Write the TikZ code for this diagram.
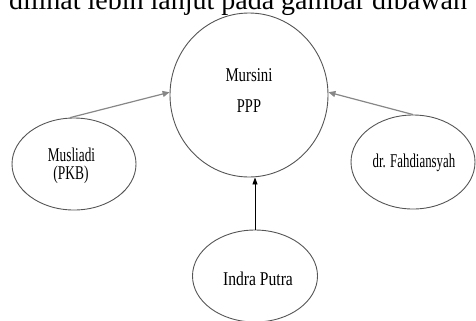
\documentclass[tikz,border=0pt]{standalone}
\usepackage{fontspec}
\setmainfont{Liberation Serif}
\usetikzlibrary{shapes.geometric,arrows.meta}
\definecolor{edgegrey}{RGB}{85,85,85}
\definecolor{arrgrey}{RGB}{135,135,135}
\tikzset{
  oval/.style={draw=edgegrey, line width=0.9bp, ellipse, inner sep=0pt},
  lbl/.style={anchor=base, inner sep=0pt, font=\fontsize{19.5bp}{22bp}\selectfont},
  garrow/.style={draw=arrgrey, line width=1.2bp, -{Triangle[length=7bp,width=6bp]}},
  barrow/.style={draw=black, line width=0.9bp, -{Triangle[length=7bp,width=5bp]}}
}
\begin{document}
\begin{tikzpicture}[x=1bp,y=-1bp]
\useasboundingbox (0,0) rectangle (476,320);
\clip (0,0) rectangle (476,320);
\node[anchor=base, inner sep=0pt, font=\fontsize{28bp}{30bp}\selectfont] (head) at (238,9.5) {dilihat lebih lanjut pada gambar dibawah};
\node[oval, minimum width=158bp, minimum height=164bp] (mursini) at (249,95) {};
\node[oval, minimum width=124bp, minimum height=92bp] (musl) at (74,164) {};
\node[oval, minimum width=124bp, minimum height=94bp] (fahd) at (413,162) {};
\node[oval, minimum width=125bp, minimum height=92bp] (indra) at (255,276) {};
\node[lbl] (t1) at (249,81.5) {\scalebox{0.76}[1]{Mursini}};
\node[lbl] (t2) at (249,112.5) {\scalebox{0.74}[1]{PPP}};
\node[lbl] (t3) at (71.5,161) {\scalebox{0.68}[1]{Musliadi}};
\node[lbl] (t4) at (71,179.5) {\scalebox{0.69}[1]{(PKB)}};
\node[lbl] (t5) at (414,167) {\scalebox{0.66}[1]{dr. Fahdiansyah}};
\node[lbl] (t6) at (258,285) {\scalebox{0.80}[1]{Indra Putra}};
\draw[garrow] (musl.95) -- (mursini.178);
\draw[garrow] (fahd.north) -- (mursini.2);
\draw[barrow] (indra.north) -- (indra.north |- mursini.south);
\end{tikzpicture}
\end{document}
